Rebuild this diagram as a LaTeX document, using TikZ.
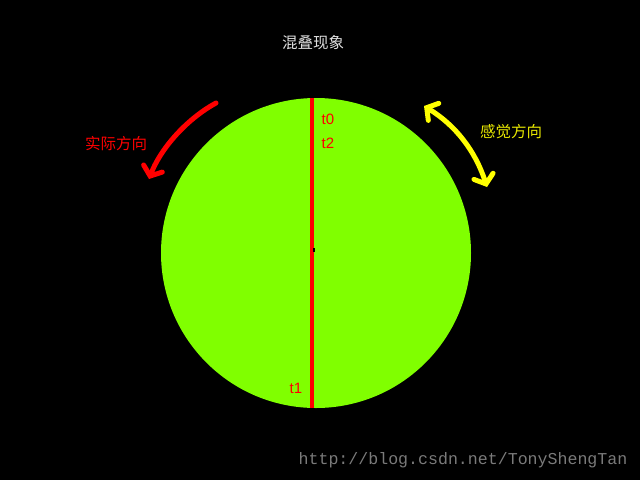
\documentclass[tikz,border=0pt]{standalone}
\usepackage{fontspec}
\setmainfont{Liberation Sans}
\newfontfamily\cjk{Noto Sans CJK SC}
\newfontfamily\wmfont{Liberation Mono}
\usetikzlibrary{arrows.meta}
\definecolor{ballgreen}{HTML}{80FF00}
\definecolor{titlegrey}{HTML}{E0E0E0}
\definecolor{wmgrey}{HTML}{7A7A7A}
\definecolor{feelyellow}{HTML}{FFFF00}
\definecolor{feeltext}{HTML}{E8E800}
\tikzset{
  cjklabel/.style={font=\cjk\fontsize{15.5}{17}\selectfont, inner sep=0pt},
  tlabel/.style={font=\fontsize{15}{17}\selectfont, text=red, inner sep=0pt},
  barbtip/.tip={Straight Barb[length=8pt,width=20pt,line cap=round]},
  bigarrow/.style={line width=5pt, line cap=round},
}
\begin{document}
\begin{tikzpicture}[x=1pt,y=-1pt]
\fill[black] (0,0) rectangle (640,480);
\useasboundingbox (0,0) rectangle (640,480);
% ball
\fill[ballgreen] (316,253) circle[radius=155];
\node[circle, minimum size=310pt, inner sep=0pt] (ball) at (316,253) {};
% diameter
\coordinate (top) at (311.5,98);
\coordinate (bot) at (311.5,408);
\draw[red, line width=4pt] (top) -- (bot);
\fill[black] (312.5,247.5) rectangle (314.5,251.5);
% labels on diameter
\node[tlabel] (t0) at (328,119) {t0};
\node[tlabel] (t2) at (328,143) {t2};
\node[tlabel] (t1) at (296,388) {t1};
% title
\node[cjklabel, text=titlegrey] (title) at (313,43) {混叠现象};
% actual direction
\node[cjklabel, text=red] (actual) at (116,144) {实际方向};
\coordinate (a0) at (216,103);
\coordinate (a1) at (149,179);
\draw[bigarrow, red, -barbtip] (a0) .. controls (185,120) and (160,150) .. (a1);
% perceived direction
\node[cjklabel, text=feeltext] (feel) at (511,132) {感觉方向};
\coordinate (f0) at (424,106);
\coordinate (f1) at (487,187);
\draw[bigarrow, feelyellow, barbtip-barbtip]
  (f0) .. controls (455,125) and (475,150) .. (f1);
% watermark
\node[font=\wmfont\fontsize{16.6}{18}\selectfont, text=wmgrey, inner sep=0pt] (wm) at (463,460) {http://blog.csdn.net/TonyShengTan};
\end{tikzpicture}
\end{document}
